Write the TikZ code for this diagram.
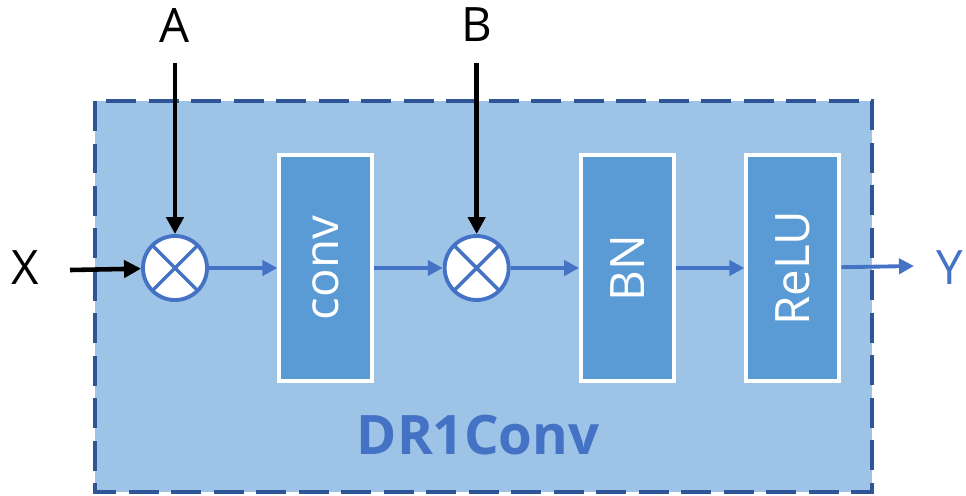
\documentclass[tikz,border=0pt]{standalone}
\usepackage{fontspec}
\setmainfont{Open Sans}
\usepackage{xcolor}
\usetikzlibrary{arrows.meta,positioning}
\definecolor{outerfill}{HTML}{9DC3E6}
\definecolor{outerline}{HTML}{2F5597}
\definecolor{blockfill}{HTML}{5B9BD5}
\definecolor{accent}{HTML}{4472C4}

\begin{document}
\begin{tikzpicture}[
  x=0.02cm,y=-0.02cm,
  node distance=1.37cm,
  outer/.style={draw=outerline,fill=outerfill,line width=2.2pt,dash pattern=on 0.6cm off 0.25cm},
  block/.style={draw=white,fill=blockfill,line width=2.2pt,minimum width=1.86cm,minimum height=4.52cm,inner sep=0pt},
  blocktext/.style={rotate=90,text=white,font=\fontsize{27}{30}\selectfont},
  mult/.style={circle,draw=accent,fill=white,line width=2.2pt,minimum size=1.28cm,inner sep=0pt,
    path picture={\draw[accent,line width=2pt]
      (path picture bounding box.north west) -- (path picture bounding box.south east)
      (path picture bounding box.north east) -- (path picture bounding box.south west);}},
  lbl/.style={font=\fontsize{27}{30}\selectfont},
  arr/.style={-{Triangle[length=0.3cm,width=0.3cm]},line width=2.2pt,accent},
  karr/.style={-{Triangle[length=0.34cm,width=0.34cm]},line width=2.6pt,black}
]
\useasboundingbox (0,0) rectangle (966,495);

% dashed module frame
\draw[outer] (95,101) rectangle (872,492);
\node[font=\fontsize{31}{34}\selectfont\bfseries,text=accent] (title) at (478,435) {DR1Conv};

% chain
\node[mult] (m1) at (175,268) {};
\node[block,right=of m1] (conv) {};
\node[mult,right=of conv] (m2) {};
\node[block,right=of m2] (bn) {};
\node[block,right=of bn] (relu) {};
\node[blocktext] (convtxt) at (conv) {conv};
\node[blocktext] (bntxt) at (bn) {BN};
\node[blocktext] (relutxt) at (relu) {ReLU};

% inputs and output
\node[lbl] (x) at (25,268) {X};
\node[lbl] (a) at (m1 |- 0,25) {A};
\node[lbl] (b) at (m2 |- 0,25) {B};
\node[lbl,text=accent,anchor=west,inner sep=0pt] (y) at (936,268) {Y};
\coordinate (xin) at (70,270);
\coordinate (ain) at (m1 |- 0,63);
\coordinate (bin) at (m2 |- 0,63);
\coordinate (yout) at (914,266);

\draw[karr] (xin) -- (m1);
\draw[karr] (ain) -- (m1);
\draw[karr] (bin) -- (m2);
\draw[arr] (m1) -- (conv);
\draw[arr] (conv) -- (m2);
\draw[arr] (m2) -- (bn);
\draw[arr] (bn) -- (relu);
\draw[arr] (relu) -- (yout);

\end{tikzpicture}
\end{document}
